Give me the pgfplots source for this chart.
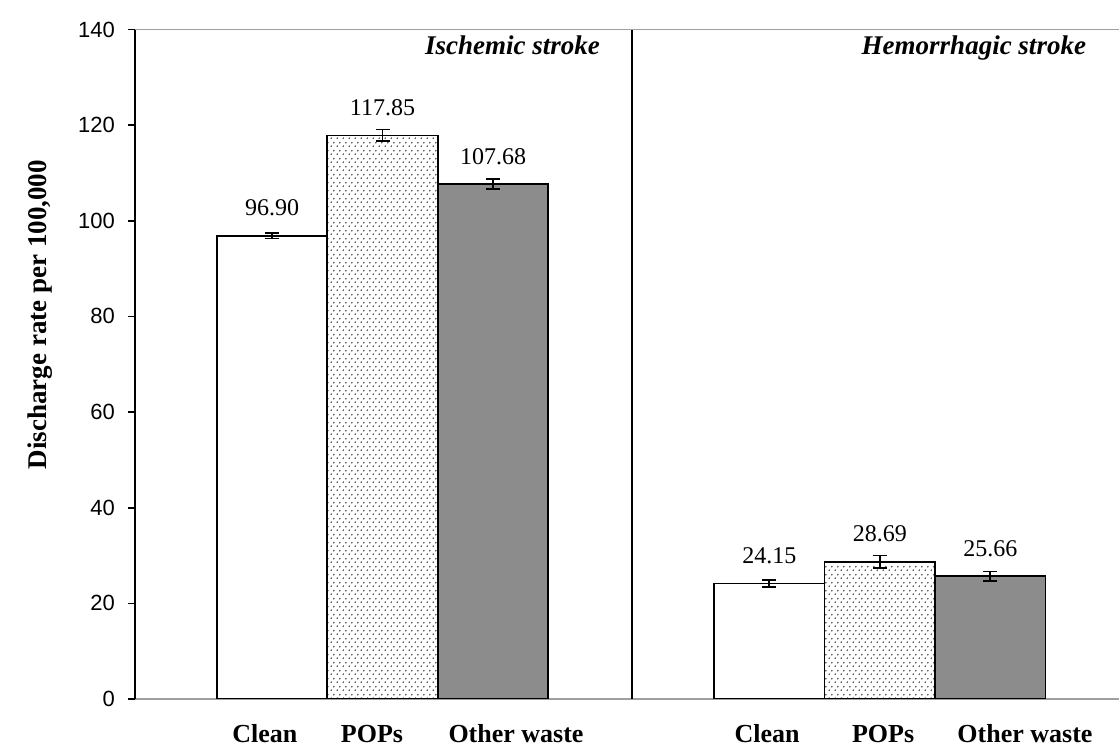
\documentclass[border=0pt]{standalone}
\usepackage{fontspec}
\setmainfont{Liberation Serif}
\newfontfamily\sansf{Liberation Sans}
\usepackage{pgfplots}
\usepackage{pgfplotstable}
\pgfplotsset{compat=1.18}
\usetikzlibrary{patterns}

% staggered dots for the POPs bars
\pgfdeclarepatternformonly{popdots}{\pgfqpoint{0pt}{0pt}}{\pgfqpoint{3pt}{4pt}}{\pgfqpoint{3pt}{4pt}}{
  \pgfpathcircle{\pgfqpoint{0.75pt}{1pt}}{0.55pt}
  \pgfpathcircle{\pgfqpoint{2.25pt}{3pt}}{0.55pt}
  \pgfusepath{fill}}

\pgfplotstableread{
x y e lab
1.24 96.90 0.6 96.90
5.74 24.15 0.7 24.15
}\clean
\pgfplotstableread{
x y e lab
2.24 117.85 1.2 117.85
6.74 28.69 1.3 28.69
}\pops
\pgfplotstableread{
x y e lab
3.24 107.68 1.0 107.68
7.74 25.66 1.0 25.66
}\other

\begin{document}
\begin{tikzpicture}
\path[use as bounding box] (-67.5pt,-24.5pt) rectangle (492pt,349.5pt);
\begin{axis}[
    scale only axis,
    width=492pt, height=334.75pt,
    xmin=0, xmax=8.905,
    ymin=0, ymax=140,
    ybar, bar width=1,
    axis lines*=left,
    x axis line style={draw=gray!75, line width=1pt},
    y axis line style={draw=black, line width=1pt},
    ytick={0,20,...,140},
    tick align=outside,
    major tick length=3.5pt,
    ytick style={black, line width=0.8pt},
    yticklabel style={font=\sansf\fontsize{11}{13}\selectfont, xshift=-3pt},
    /pgf/number format/assume math mode=true,
    xtick={1.176,2.145,3.448,5.72,6.77,8.054},
    xticklabels={Clean,POPs,Other waste,Clean,POPs,Other waste},
    xtick style={draw=none},
    xticklabel style={font=\bfseries\fontsize{13}{15}\selectfont, anchor=base, yshift=-18.5pt},
    ylabel={Discharge rate per 100,000},
    every axis y label/.style={at={(axis description cs:-0.0965,0.574)}, rotate=90, anchor=center,
        font=\bfseries\fontsize{13.5}{16}\selectfont},
    nodes near coords,
    point meta=explicit symbolic,
    every node near coord/.append style={anchor=base, yshift=10pt, black, font=\fontsize{12}{14}\selectfont},
    error bars/y dir=both,
    error bars/y explicit,
    error bars/error bar style={black, line width=0.8pt},
    error bars/error mark options={rotate=90, black, mark size=3.5pt, line width=0.8pt},
]
\addplot[bar shift=0pt, draw=black, line width=0.9pt, fill=white]
    table[x=x, y=y, y error=e, meta=lab] {\clean};
\addplot[bar shift=0pt, draw=black, line width=0.9pt, fill=white,
    postaction={pattern=popdots, pattern color=black!65}]
    table[x=x, y=y, y error=e, meta=lab] {\pops};
\addplot[bar shift=0pt, draw=black, line width=0.9pt, fill=black!45]
    table[x=x, y=y, y error=e, meta=lab] {\other};

\draw[black, line width=1pt] (axis cs:4.5,0) -- (axis cs:4.5,140);
\draw[gray!75, line width=1pt] (rel axis cs:0,1) -- (rel axis cs:1,1);
\node[anchor=base east, font=\bfseries\itshape\fontsize{13.5}{16}\selectfont] at (axis cs:4.27,134.7) {Ischemic stroke};
\node[anchor=base east, font=\bfseries\itshape\fontsize{13.5}{16}\selectfont] at (axis cs:8.67,134.7) {Hemorrhagic stroke};
\end{axis}
\end{tikzpicture}
\end{document}
